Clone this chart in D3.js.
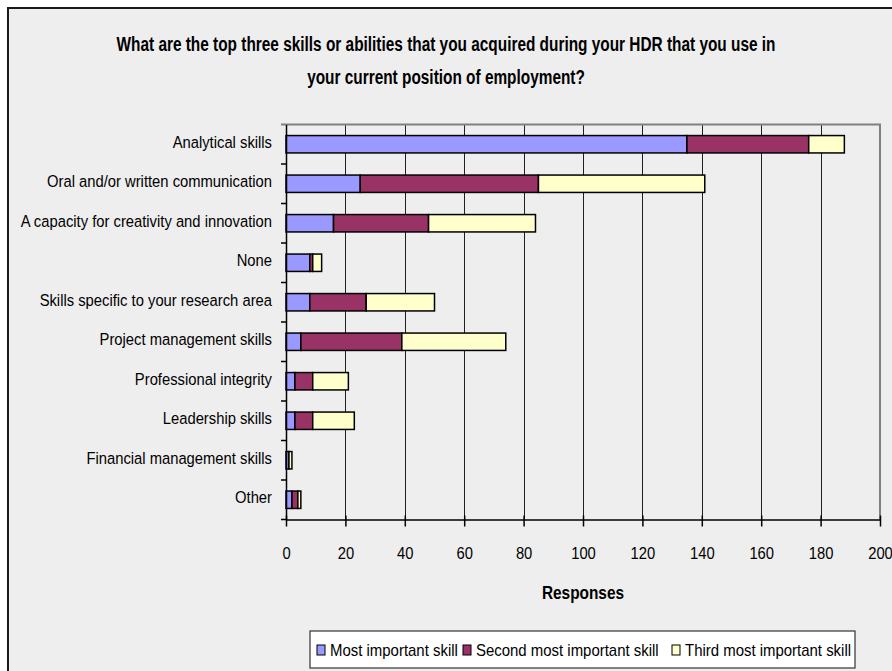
<!DOCTYPE html>
<html>
<head>
<meta charset="utf-8">
<script src="https://cdn.jsdelivr.net/npm/d3@7"></script>
<style>
  html, body { margin: 0; padding: 0; background: #ffffff; }
  svg { display: block; }
  text { font-family: "Liberation Sans", Arial, sans-serif; fill: #000; }
</style>
</head>
<body>
<svg id="chart" width="892" height="671"></svg>
<script>
// Survey responses: top three skills acquired during the HDR
const categories = [
  "Analytical skills",
  "Oral and/or written communication",
  "A capacity for creativity and innovation",
  "None",
  "Skills specific to your research area",
  "Project management skills",
  "Professional integrity",
  "Leadership skills",
  "Financial management skills",
  "Other"
];
const seriesNames = ["Most important skill", "Second most important skill", "Third most important skill"];
const mostImportant   = [135, 25, 16, 8, 8, 5, 3, 3, 1, 2];
const secondImportant = [41, 60, 32, 1, 19, 34, 6, 6, 0, 2];
const thirdImportant  = [12, 56, 36, 3, 23, 35, 12, 14, 1, 1];
const xTicks = [0, 20, 40, 60, 80, 100, 120, 140, 160, 180, 200];
const titleLines = [
  "What are the top three skills or abilities that you acquired during your HDR that you use in",
  "your current position of employment?"
];
const xAxisTitle = "Responses";

const colors = ["#9999ff", "#993366", "#ffffcc"];

const W = 892, H = 671;
const plot = { left: 286, right: 880, top: 124.5, bottom: 519.5 };
const NARROW = 0.88;       // horizontal squeeze for the narrow face
const NARROW_BOLD = 0.77;  // title squeeze

// Squeeze a text horizontally about its anchor point
function narrow(sel, k) {
  sel.each(function () {
    const t = d3.select(this);
    const x0 = +(t.attr("x") || 0);
    const y0 = +(t.attr("y") || 0);
    t.attr("x", 0).attr("y", 0)
     .attr("transform", `translate(${x0},${y0}) scale(${k},1)`);
  });
}

const svg = d3.select("#chart");

// Chart frame (runs off the right and bottom edges)
svg.append("rect")
  .attr("x", 8).attr("y", 8)
  .attr("width", W + 20).attr("height", H + 20)
  .attr("fill", "#eeeeee")
  .attr("stroke", "#1a1a1a").attr("stroke-width", 2);

// Title
svg.append("g").selectAll("text").data(titleLines).join("text")
  .attr("x", 446).attr("y", (d, i) => 51 + i * 33)
  .attr("text-anchor", "middle")
  .attr("font-size", 20).attr("font-weight", "bold")
  .text(d => d)
  .call(narrow, NARROW_BOLD);

const x = d3.scaleLinear().domain([0, 200]).range([plot.left, plot.right]);
const y = d3.scaleBand().domain(categories).range([plot.top, plot.bottom]).paddingInner(0.56).paddingOuter(0.28);

// Vertical gridlines
svg.append("g").selectAll("line").data(xTicks.filter(t => t > 0 && t < 200)).join("line")
  .attr("x1", d => Math.round(x(d)) + 0.5).attr("x2", d => Math.round(x(d)) + 0.5)
  .attr("y1", plot.top).attr("y2", plot.bottom)
  .attr("stroke", "#202020").attr("stroke-width", 1);

// Plot border: top and right in gray
svg.append("path")
  .attr("d", `M${plot.left - 5},${plot.top}H${plot.right}V${plot.bottom}`)
  .attr("fill", "none").attr("stroke", "#808080").attr("stroke-width", 2);

// Stacked bars
const rows = categories.map((c, i) => ({
  cat: c, vals: [mostImportant[i], secondImportant[i], thirdImportant[i]]
}));
const stack = d3.stack().keys([0, 1, 2]).value((d, k) => d.vals[k]);
const layers = stack(rows);

svg.append("g").selectAll("g").data(layers).join("g")
  .attr("fill", (d, i) => colors[i])
  .selectAll("rect").data(d => d.filter(s => s[1] > s[0])).join("rect")
  .attr("x", d => x(d[0]))
  .attr("y", d => y(d.data.cat))
  .attr("width", d => x(d[1]) - x(d[0]))
  .attr("height", y.bandwidth())
  .attr("stroke", "#000").attr("stroke-width", 1.5);

// Category axis (left)
const yAxis = d3.axisLeft(y).tickSize(0).tickPadding(14);
const gy = svg.append("g").attr("transform", `translate(${plot.left},0)`).call(yAxis);
gy.select(".domain").attr("stroke", "#000").attr("stroke-width", 1.5);
gy.selectAll("text").attr("font-size", 16.8).attr("dy", "0.2em")
  .style("font-family", '"Liberation Sans", Arial, sans-serif')
  .call(narrow, NARROW);
// Separator ticks between categories
const bounds = d3.range(categories.length + 1).map(i => plot.top + i * (plot.bottom - plot.top) / categories.length);
svg.append("g").selectAll("line").data(bounds.slice(1)).join("line")
  .attr("x1", plot.left - 5).attr("x2", plot.left)
  .attr("y1", d => d).attr("y2", d => d)
  .attr("stroke", "#000").attr("stroke-width", 1.5);

// Value axis (bottom)
const xAxis = d3.axisBottom(x).tickValues(xTicks).tickSizeInner(7).tickSizeOuter(0).tickPadding(21);
const gx = svg.append("g").attr("transform", `translate(0,${plot.bottom})`).call(xAxis);
gx.select(".domain").attr("stroke", "#000").attr("stroke-width", 1.5);
gx.selectAll(".tick line").attr("stroke", "#000").attr("stroke-width", 1.5).attr("y1", -4);
gx.selectAll("text").attr("font-size", 16.8)
  .style("font-family", '"Liberation Sans", Arial, sans-serif')
  .call(narrow, NARROW);

// Axis title
svg.append("text")
  .attr("x", x(100)).attr("y", 599)
  .attr("text-anchor", "middle").attr("font-size", 17.5).attr("font-weight", "bold")
  .text(xAxisTitle)
  .call(narrow, NARROW);

// Legend
const legend = svg.append("g");
legend.append("rect")
  .attr("x", 310).attr("y", 631).attr("width", 545).attr("height", 37)
  .attr("fill", "#ffffff").attr("stroke", "#333").attr("stroke-width", 1.2);
const legendX = [317, 463, 672];
const items = legend.selectAll("g.item").data(seriesNames).join("g").attr("class", "item")
  .attr("transform", (d, i) => `translate(${legendX[i]},650)`);
items.append("rect")
  .attr("x", 0).attr("y", -5).attr("width", 8).attr("height", 10)
  .attr("fill", (d, i) => colors[i]).attr("stroke", "#000").attr("stroke-width", 1);
items.append("text")
  .attr("x", 13).attr("y", 6).attr("font-size", 16.8)
  .text(d => d)
  .call(narrow, 0.89);
</script>
</body>
</html>
